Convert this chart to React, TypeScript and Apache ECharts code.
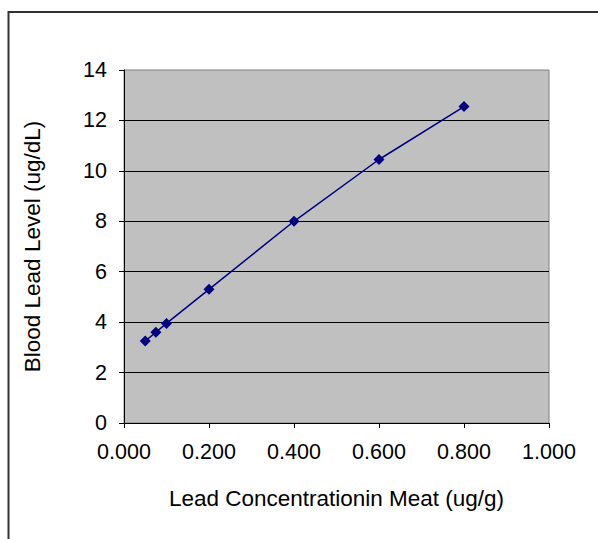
import React, { useEffect, useRef } from "react";
import * as echarts from "echarts";

const xValues = [0.05, 0.075, 0.1, 0.2, 0.4, 0.6, 0.8];
const yValues = [3.25, 3.6, 3.95, 5.3, 8.0, 10.45, 12.55];
const xAxisName = "Lead Concentrationin Meat (ug/g)";
const yAxisName = "Blood Lead Level (ug/dL)";

export default function App() {
  const ref = useRef<HTMLDivElement>(null);
  useEffect(() => {
    if (!ref.current) return;
    const chart = echarts.init(ref.current, null, { renderer: "svg" });
    const font = "Arial, 'Liberation Sans', sans-serif";
    chart.setOption({
      animation: false,
      backgroundColor: "#ffffff",
      graphic: [
        {
          type: "rect",
          shape: { x: 8.5, y: 12, width: 700, height: 700 },
          style: { fill: "none", stroke: "#333333", lineWidth: 2 },
          silent: true,
          z: 0,
        },
      ],
      grid: {
        left: 124,
        top: 70,
        right: 49,
        bottom: 116,
        show: true,
        backgroundColor: "#C0C0C0",
        borderColor: "#808080",
        borderWidth: 1,
      },
      xAxis: {
        type: "value",
        min: 0,
        max: 1,
        interval: 0.2,
        name: xAxisName,
        nameLocation: "middle",
        nameGap: 64,
        nameTextStyle: { fontFamily: font, fontSize: 22.5, color: "#000" },
        axisLine: { show: true, onZero: false, lineStyle: { color: "#000", width: 1 } },
        axisTick: { show: true, length: 5, lineStyle: { color: "#000" } },
        axisLabel: {
          fontFamily: font,
          fontSize: 21.5,
          color: "#000",
          margin: 18,
          formatter: (v: number) => v.toFixed(3),
        },
        splitLine: { show: false },
      },
      yAxis: {
        type: "value",
        min: 0,
        max: 14,
        interval: 2,
        name: yAxisName,
        nameLocation: "middle",
        nameGap: 80,
        nameTextStyle: { fontFamily: font, fontSize: 22.5, color: "#000" },
        axisLine: { show: true, lineStyle: { color: "#000", width: 1 } },
        axisTick: { show: true, length: 5, lineStyle: { color: "#000" } },
        axisLabel: { fontFamily: font, fontSize: 21.5, color: "#000", margin: 17 },
        splitLine: {
          show: true,
          showMaxLine: false,
          showMinLine: false,
          lineStyle: { color: "#000", width: 1 },
        },
      },
      series: [
        {
          type: "line",
          data: xValues.map((x, i) => [x, yValues[i]]),
          symbol: "diamond",
          symbolSize: 11,
          lineStyle: { color: "#000080", width: 1.5 },
          itemStyle: { color: "#000080" },
          z: 5,
        },
      ],
    });
    return () => chart.dispose();
  }, []);
  return (
    <div
      ref={ref}
      style={{ position: "fixed", left: 0, top: 0, width: 598, height: 539 }}
    />
  );
}
